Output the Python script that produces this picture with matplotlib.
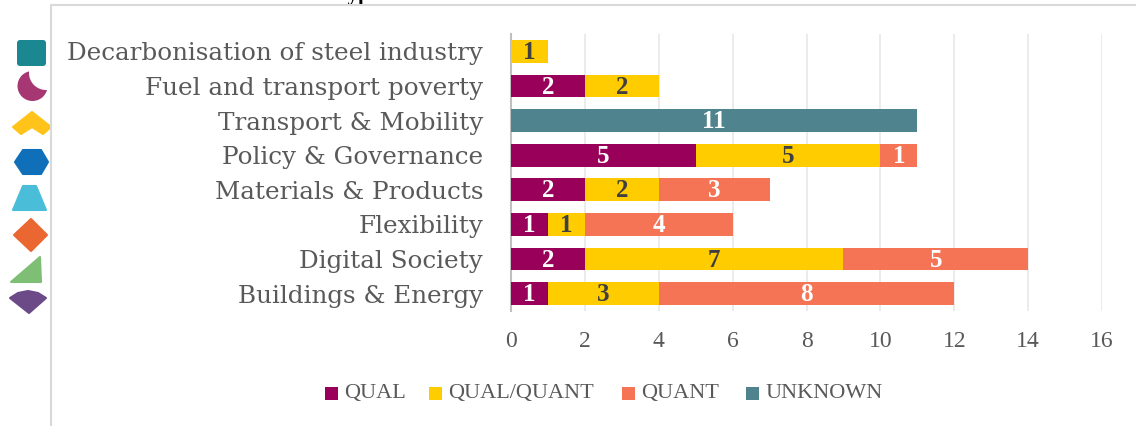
import matplotlib
matplotlib.use("Agg")
import matplotlib.pyplot as plt
from matplotlib.patches import Polygon, FancyBboxPatch, Circle, Rectangle

categories = ["Buildings & Energy", "Digital Society", "Flexibility", "Materials & Products",
              "Policy & Governance", "Transport & Mobility", "Fuel and transport poverty",
              "Decarbonisation of steel industry"]
qual = [1, 2, 1, 2, 5, 0, 2, 0]
qual_quant = [3, 7, 1, 2, 5, 0, 2, 1]
quant = [8, 5, 4, 3, 1, 0, 0, 0]
unknown = [0, 0, 0, 0, 0, 11, 0, 0]
series_names = ["QUAL", "QUAL/QUANT", "QUANT", "UNKNOWN"]
xticks = [0, 2, 4, 6, 8, 10, 12, 14, 16]

colors = ["#990059", "#FFCC00", "#F57455", "#4F838D"]
label_colors = ["white", "#404040", "white", "white"]
font = ["Liberation Serif", "DejaVu Serif"]
W, H = 1136, 426

plt.rcParams["font.family"] = font
fig = plt.figure(figsize=(W / 100, H / 100), dpi=100)

# pixel overlay for the frame and the icons on the left
bg = fig.add_axes([0, 0, 1, 1])
bg.set_xlim(0, W)
bg.set_ylim(H, 0)
bg.axis("off")
bg.plot([51, 51, W], [H, 5, 5], color="#D9D9D9", lw=1.5, zorder=10)
bg.text(336, 0, "Types", ha="left", va="baseline", fontsize=15, fontweight="bold", color="black", zorder=5)


def icon(points, c):
    bg.add_patch(Polygon(points, fc=c, ec=c, lw=1.5, joinstyle="round", zorder=3))


bg.add_patch(Circle((32.5, 86), 15, fc="#A63772", ec="none", zorder=1))
bg.add_patch(Circle((46, 73), 17, fc="white", ec="none", zorder=2))
bg.add_patch(FancyBboxPatch((17, 40), 29, 26, boxstyle="round,pad=0,rounding_size=3", fc="#1B8891", ec="none", zorder=3))
icon([[13, 127], [32, 112], [51, 127], [43, 134], [32, 127], [21, 134]], "#FFC31A")
icon([[15, 162], [23, 150], [41, 150], [48, 162], [41, 174], [23, 174]], "#0F6FB8")
icon([[13, 210], [23, 186], [36, 186], [46, 210]], "#4ABED9")
icon([[14, 235], [31, 219], [47, 235], [31, 251]], "#EB6732")
icon([[11, 282], [40, 257], [41, 282]], "#7FBF75")
icon([[10, 298], [18, 293], [28, 291], [38, 293], [46, 298], [29, 313]], "#6B4A87")

ax = fig.add_axes([511 / W, 1 - 311 / H, (1102 - 511) / W, 277 / H])
ax.patch.set_alpha(0)
left = [0] * len(categories)
all_series = [qual, qual_quant, quant, unknown]
for vals, name, c, lc in zip(all_series, series_names, colors, label_colors):
    bars = ax.barh(categories, vals, left=left, height=0.66, color=c, label=name, zorder=3)
    for b, v in zip(bars, vals):
        if v:
            ax.annotate(str(v), (b.get_x() + b.get_width() / 2, b.get_y() + b.get_height() / 2),
                        xytext=(0, 1), textcoords="offset points", ha="center", va="center_baseline",
                        color=lc, fontsize=18, fontweight="bold", zorder=4)
    left = [l + v for l, v in zip(left, vals)]

ax.set_xlim(0, 16)
ax.set_ylim(-0.5, 7.5)
ax.set_xticks(xticks)
ax.grid(axis="x", color="#E8E8E8", lw=1.2, zorder=0)
ax.tick_params(axis="both", length=0)
ax.tick_params(axis="y", labelsize=17.7, labelcolor="#595959", pad=20)
ax.tick_params(axis="x", labelsize=17, labelcolor="#595959", pad=14.5)
for lab in ax.get_yticklabels():
    lab.set_family(["DejaVu Serif"])
    lab.set_y(lab.get_position()[1])
for s in ["top", "right", "bottom"]:
    ax.spines[s].set_visible(False)
ax.spines["left"].set_color("#BFBFBF")
ax.spines["left"].set_linewidth(1.5)

# legend placed by hand
leg_x = [325, 429, 622, 746]
for x, name, c in zip(leg_x, series_names, colors):
    bg.add_patch(Rectangle((x, 387), 13, 13, fc=c, ec="none"))
    bg.text(x + 19, 393.5, name, ha="left", va="center", fontsize=16, color="#595959")

fig.savefig("out.png", dpi=100)
